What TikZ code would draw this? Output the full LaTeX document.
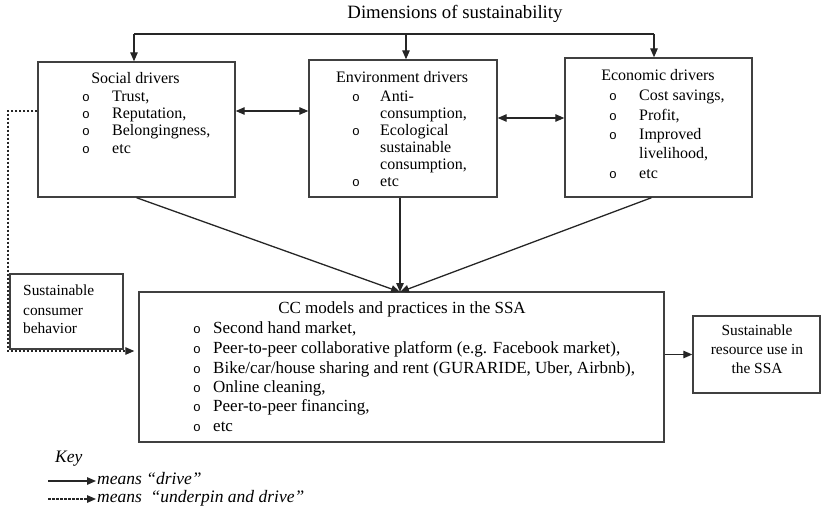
\documentclass[tikz,border=0pt]{standalone}
\usepackage{fontspec}
\setmainfont{Liberation Serif}
\newfontfamily\bulletfont{Liberation Mono}
\usetikzlibrary{arrows.meta}
\begin{document}
\begin{tikzpicture}[x=1pt,y=-1pt,
  box/.style={draw=black!75,line width=1.4pt,inner sep=0pt},
  txt/.style={inner sep=0pt,font=\fontsize{16}{18}\selectfont,text height=11pt,text depth=3pt},
  ltxt/.style={txt,anchor=west},
  ctxt/.style={inner sep=0pt,font=\fontsize{17}{19}\selectfont,text height=11.5pt,text depth=3.5pt},
  lctxt/.style={ctxt,anchor=west},
  stxt/.style={inner sep=0pt,font=\fontsize{15.4}{17}\selectfont,text height=10.5pt,text depth=3pt},
  ktxt/.style={inner sep=0pt,anchor=west,font=\fontsize{17.5}{20}\selectfont\itshape,text height=9pt,text depth=2pt},
  bul/.style={inner sep=0pt,yshift=-1.5pt,font=\bulletfont\fontsize{13}{13}\selectfont},
  link/.style={draw=black!85,line width=1.3pt,-{Triangle[length=9pt,width=7.5pt]}},
  both/.style={draw=black!85,line width=1.3pt,{Triangle[length=9pt,width=7.5pt]}-{Triangle[length=9pt,width=7.5pt]}},
  dlink/.style={link,dash pattern=on 2.5pt off 1.5pt}]

\useasboundingbox (0,0) rectangle (821,511);

% title
\node[inner sep=0pt,font=\fontsize{18.8}{20}\selectfont,text height=12.5pt,text depth=4pt] (title) at (455,14) {Dimensions of sustainability};

% driver boxes
\node[box,minimum width=197pt,minimum height=135pt] (soc) at (136.5,129.5) {};
\node[box,minimum width=188pt,minimum height=137pt] (env) at (403,128.5) {};
\node[box,minimum width=187pt,minimum height=139pt] (eco) at (658.5,127.5) {};

% social drivers
\node[txt] (soct) at (135.5,79) {Social drivers};
\foreach \t/\y [count=\i] in {{Trust,}/97,{Reputation,}/114,{Belongingness,}/131,etc/149}{
  \node[bul] (sb\i) at (86,\y) {o};
  \node[ltxt] (st\i) at (112,\y) {\t};
}

% environment drivers
\node[txt] (envt) at (402,78) {Environment drivers};
\foreach \y [count=\i] in {97,131,182}{
  \node[bul] (eb\i) at (356,\y) {o};
}
\foreach \t/\y [count=\i] in {Anti-/97,{consumption,}/114,{Ecological}/131,{sustainable}/148,{consumption,}/165,etc/182}{
  \node[ltxt] (et\i) at (380,\y) {\t};
}

% economic drivers
\node[txt] (ecot) at (658,76) {Economic drivers};
\foreach \y [count=\i] in {96,116,135,174}{
  \node[bul] (cb\i) at (613,\y) {o};
}
\foreach \t/\y [count=\i] in {{Cost savings,}/96,{Profit,}/116,{Improved}/135,{livelihood,}/154,etc/174}{
  \node[ltxt] (ct\i) at (639,\y) {\t};
}

% collaborative consumption box
\node[box,minimum width=525pt,minimum height=150pt] (cc) at (401.5,367) {};
\node[ctxt] (cct) at (402,309) {CC models and practices in the SSA};
\foreach \t/\y [count=\i] in {{Second hand market,}/329,
  {Peer-to-peer collaborative platform (e.g. Facebook market),}/349,
  {Bike/car/house sharing and rent (GURARIDE, Uber, Airbnb),}/369,
  {Online cleaning,}/388,{Peer-to-peer financing,}/407,etc/427}{
  \node[bul] (pb\i) at (197,\y) {o};
  \node[lctxt] (pt\i) at (213,\y) {\t};
}

% sustainable consumer behaviour
\node[box,minimum width=113pt,minimum height=75pt] (scb) at (66.5,311.5) {};
\node[stxt,anchor=west] (scb1) at (23,292) {Sustainable};
\node[stxt,anchor=west] (scb2) at (23,312) {consumer};
\node[stxt,anchor=west] (scb3) at (23,330) {behavior};

% sustainable resource use
\node[box,minimum width=127pt,minimum height=77pt] (sru) at (756.5,354.5) {};
\node[stxt] (sru1) at (757,332) {Sustainable};
\node[stxt] (sru2) at (757,351) {resource use in};
\node[stxt] (sru3) at (757,370) {the SSA};

% dimensions bracket
\coordinate (tl) at (134,34);
\coordinate (tm) at (406,34);
\coordinate (tr) at (654,34);
\draw[draw=black!85,line width=1.3pt] (tl) -- (tr);
\draw[link] (tl) -- (tl |- soc.north);
\draw[link] (tm) -- (tm |- env.north);
\draw[link] (tr) -- (tr |- eco.north);

% links between drivers
\coordinate (h1) at (0,111);
\coordinate (h2) at (0,118);
\draw[both] (soc.east |- h1) -- (env.west |- h1);
\draw[both] (env.east |- h2) -- (eco.west |- h2);

% drivers into CC practices
\coordinate (conv) at (400,292);
\draw[link] (soc.south) -- (conv);
\draw[link] (conv |- env.south) -- (conv);
\draw[link] ([xshift=-7pt]eco.south) -- (conv);

% consumer behaviour underpins and drives
\coordinate (d1) at (8,111);
\coordinate (d2) at (8,351);
\draw[dlink] (soc.west |- d1) -- (d1) -- (d2) -- ([xshift=-4pt]cc.west |- d2);

% CC practices lead to resource use
\draw[link] (cc.east |- sru.west) -- (sru.west);

% key
\node[ktxt,text height=12pt] (key) at (55,457) {Key};
\coordinate (k1a) at (48,481);
\coordinate (k1b) at (96,481);
\coordinate (k2a) at (48,499);
\coordinate (k2b) at (96,499);
\draw[link] (k1a) -- (k1b);
\draw[dlink] (k2a) -- (k2b);
\node[ktxt] (kd1) at (97,481) {means “drive”};
\node[ktxt] (kd2) at (97,499) {means\ \ “underpin and drive”};
\end{tikzpicture}
\end{document}
